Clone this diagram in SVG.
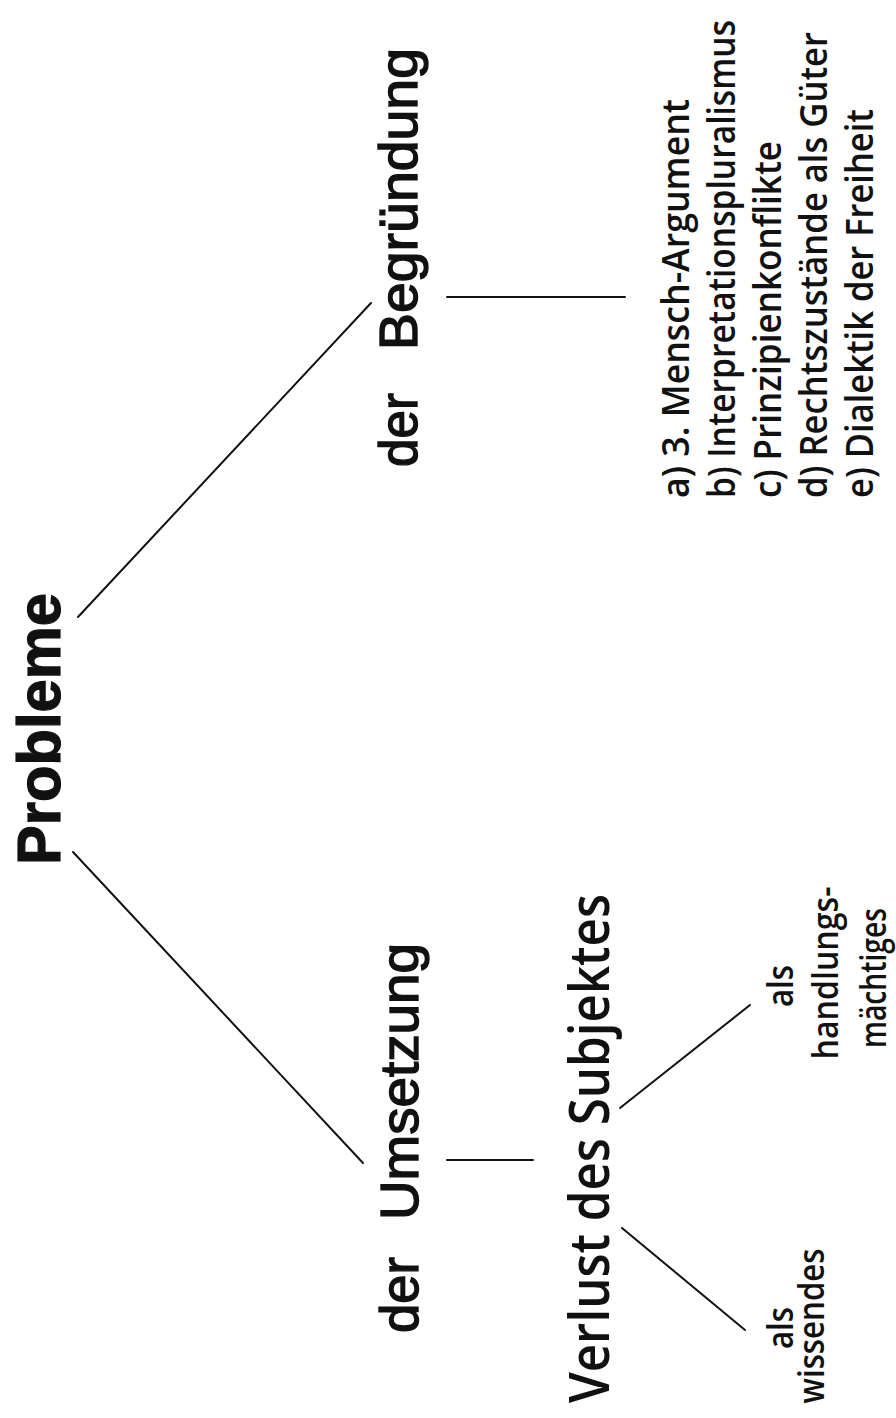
<svg xmlns="http://www.w3.org/2000/svg" width="896" height="1418" viewBox="0 0 896 1418">
  <style>
    .title { font-family: "Liberation Sans", Arial, sans-serif; font-weight: bold; font-size: 61px; fill: #111; stroke: #111; stroke-width: 1.2; }
    .branch { font-family: "Liberation Sans", Arial, sans-serif; font-size: 54px; fill: #111; stroke: #111; stroke-width: 1.4; }
    .sub { font-family: "Open Sans", "Noto Sans", sans-serif; font-weight: 600; font-size: 56px; fill: #111; }
    .leaf { font-family: "Open Sans", "Noto Sans", sans-serif; font-weight: 600; font-size: 36px; fill: #111; }
    .item { font-family: "Open Sans", "Noto Sans", sans-serif; font-weight: 600; font-size: 37px; fill: #111; }
    .edge { stroke: #111; stroke-width: 2; fill: none; stroke-linecap: round; }
  </style>
  <rect width="896" height="1418" fill="#ffffff"/>

  <!-- connectors -->
  <g id="connectors">
    <line class="edge" x1="78" y1="617" x2="371" y2="303"/>
    <line class="edge" x1="73" y1="852" x2="363" y2="1163"/>
    <line class="edge" x1="447" y1="297" x2="625" y2="297"/>
    <line class="edge" x1="447" y1="1160" x2="533" y2="1160"/>
    <line class="edge" x1="620" y1="1108" x2="750" y2="1005"/>
    <line class="edge" x1="622" y1="1228" x2="745" y2="1330"/>
  </g>

  <!-- root -->
  <g id="probleme">
    <text class="title" transform="translate(60,865) rotate(-90)" textLength="272" lengthAdjust="spacingAndGlyphs">Probleme</text>
  </g>

  <!-- justification branch -->
  <g id="begruendung">
    <text class="branch" transform="translate(417,467) rotate(-90)" textLength="74" lengthAdjust="spacingAndGlyphs">der</text>
    <text class="branch" transform="translate(417,350) rotate(-90)" textLength="302" lengthAdjust="spacingAndGlyphs">Begründung</text>
  </g>

  <!-- list of justification problems -->
  <g id="begruendung-liste">
    <text class="item" transform="translate(689,498) rotate(-90)" textLength="399" lengthAdjust="spacingAndGlyphs">a) 3. Mensch-Argument</text>
    <text class="item" transform="translate(735,498) rotate(-90)" textLength="478" lengthAdjust="spacingAndGlyphs">b) Interpretationspluralismus</text>
    <text class="item" transform="translate(781,498) rotate(-90)" textLength="357" lengthAdjust="spacingAndGlyphs">c) Prinzipienkonflikte</text>
    <text class="item" transform="translate(827,498) rotate(-90)" textLength="466" lengthAdjust="spacingAndGlyphs">d) Rechtszustände als Güter</text>
    <text class="item" transform="translate(873,498) rotate(-90)" textLength="389" lengthAdjust="spacingAndGlyphs">e) Dialektik der Freiheit</text>
  </g>

  <!-- implementation branch -->
  <g id="umsetzung">
    <text class="branch" transform="translate(418,1333) rotate(-90)" textLength="76" lengthAdjust="spacingAndGlyphs">der</text>
    <text class="branch" transform="translate(418,1220) rotate(-90)" textLength="277" lengthAdjust="spacingAndGlyphs">Umsetzung</text>
  </g>

  <g id="verlust">
    <text class="sub" transform="translate(609,1403) rotate(-90)" textLength="509" lengthAdjust="spacingAndGlyphs">Verlust des Subjektes</text>
  </g>

  <g id="wissendes">
    <text class="leaf" text-anchor="middle" transform="translate(793,1328) rotate(-90)" textLength="42" lengthAdjust="spacingAndGlyphs">als</text>
    <text class="leaf" text-anchor="middle" transform="translate(824,1326) rotate(-90)" textLength="155" lengthAdjust="spacingAndGlyphs">wissendes</text>
  </g>

  <g id="handlungsmaechtiges">
    <text class="leaf" text-anchor="middle" transform="translate(793,986) rotate(-90)" textLength="42" lengthAdjust="spacingAndGlyphs">als</text>
    <text class="leaf" text-anchor="middle" transform="translate(838,973) rotate(-90)" textLength="173" lengthAdjust="spacingAndGlyphs">handlungs-</text>
    <text class="leaf" text-anchor="middle" transform="translate(886,978) rotate(-90)" textLength="140" lengthAdjust="spacingAndGlyphs">mächtiges</text>
  </g>
</svg>
